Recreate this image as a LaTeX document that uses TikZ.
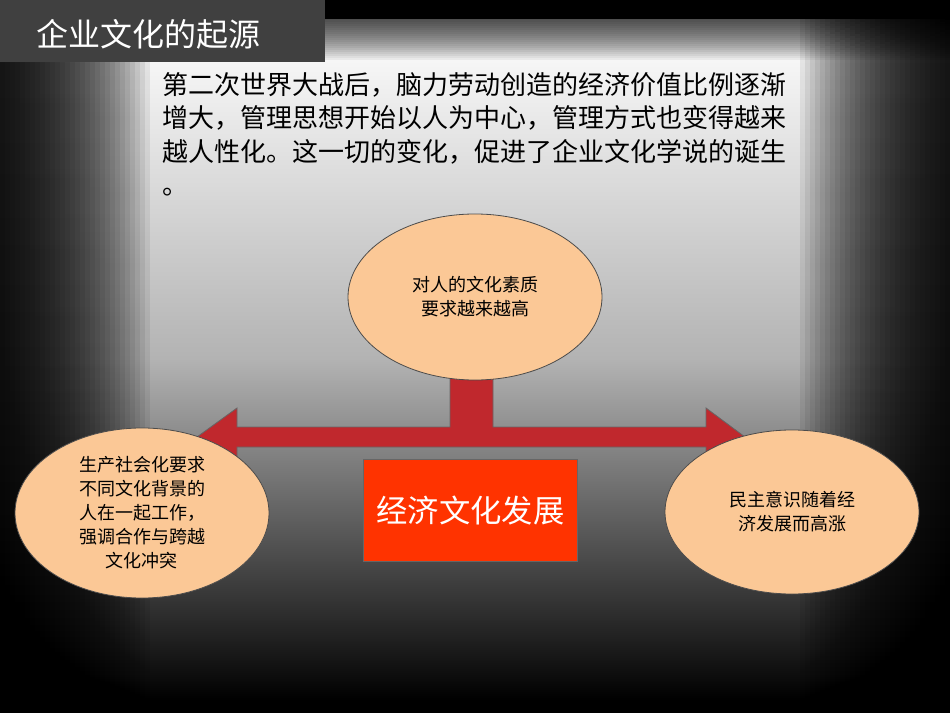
\documentclass[tikz,border=0pt]{standalone}
\usepackage{fontspec}
\setmainfont{Noto Sans CJK SC}
\tikzset{every picture/.style={line width=0.75pt}}
\definecolor{peach}{RGB}{251,200,150}
\definecolor{arrowred}{RGB}{192,40,45}
\definecolor{boxred}{RGB}{255,51,0}
\tikzset{
  bubble/.style={ellipse, fill=peach, draw=black!70, line width=0.6pt, align=center, font=\fontsize{13.5}{18}\selectfont, inner sep=0pt},
  para/.style={anchor=north west, inner sep=0pt, align=left, font=\fontsize{19.5}{25}\selectfont}
}
\usetikzlibrary{shapes.geometric}
\begin{document}
\begin{tikzpicture}[x=0.75pt,y=0.75pt,yscale=-1,xscale=1]
\useasboundingbox (0,0) rectangle (950,713);
%background
\fill[black] (0,0) rectangle (950,713);
\shade[top color=white, bottom color=black, middle color=gray!60] (0,20) rectangle (950,700);
\foreach \i in {0,...,29} {
  \fill[black, opacity=0.07] (0,0) rectangle ({5*\i+5},713);
  \fill[black, opacity=0.07] ({945-5*\i},0) rectangle (950,713);
  \fill[black, opacity=0.05] (0,0) rectangle (950,{2*\i+2});
}
%title
\fill[black!75] (0,0) rectangle (325,62);
\node[anchor=west, text=white, font=\fontsize{24}{28}\selectfont] (title) at (32,34) {企业文化的起源};
%text
\node[para] (intro) at (162,72) {第二次世界大战后，脑力劳动创造的经济价值比例逐渐\\增大，管理思想开始以人为中心，管理方式也变得越来\\越人性化。这一切的变化，促进了企业文化学说的诞生\\。};
%arrow
\draw[fill=arrowred, draw=black!60, line width=0.6pt] (450,360) -- (493,360) -- (493,427) -- (706,427) -- (706,408) -- (745,437) -- (706,467) -- (706,447) -- (237,447) -- (237,467) -- (197,437) -- (237,408) -- (237,427) -- (450,427) -- cycle;
%ellipses
\node[bubble, minimum width=190.5pt, minimum height=124.5pt] (top) at (475,297) {对人的文化素质\\要求越来越高};
\node[bubble, minimum width=190.5pt, minimum height=127.5pt] (left) at (142,513) {生产社会化要求\\不同文化背景的\\人在一起工作，\\强调合作与跨越\\文化冲突};
\node[bubble, minimum width=190.5pt, minimum height=123pt] (right) at (792,512) {民主意识随着经\\济发展而高涨};
%center box
\node[rectangle, fill=boxred, draw=black!60, minimum width=161pt, minimum height=77pt, text=white, font=\fontsize{23.5}{28}\selectfont] (econ) at (470.5,510.5) {经济文化发展};
\end{tikzpicture}
\end{document}
